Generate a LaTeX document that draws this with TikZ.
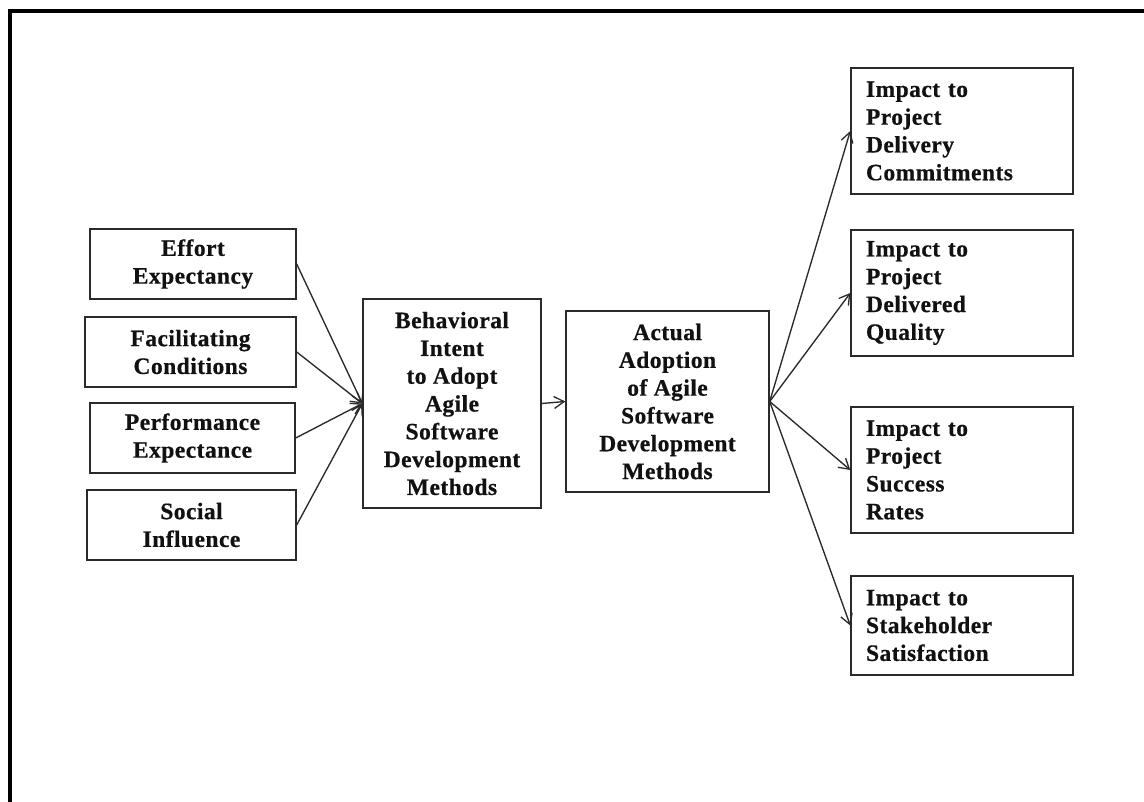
\documentclass[tikz,border=0pt]{standalone}
\usepackage{fontspec}
\setmainfont{Liberation Serif}[LetterSpace=2, BoldFeatures={FakeBold=0.6}]
\usetikzlibrary{arrows.meta}
\definecolor{ink}{HTML}{111111}
\definecolor{edge}{HTML}{2A2A2A}
\begin{document}
\begin{tikzpicture}[x=1pt,y=-1pt,
  box/.style={draw=edge, line width=1.4pt, inner sep=0pt, text=ink,
    font=\fontsize{23.5}{27.8}\selectfont\bfseries},
  cbox/.style={box, align=center},
  lbox/.style={box, align=left, text width=192pt, inner xsep=15pt,
    minimum width=222pt},
  link/.style={draw=edge, line width=1.35pt,
    -{Straight Barb[length=10pt,width=12pt,line width=1.3pt]}}]
\useasboundingbox (0,0) rectangle (1144,802);
% outer frame: left and top rules only
\draw[line width=4pt, line cap=rect] (10,802) -- (10,11) -- (1144,11);

% input factors
\node[cbox, minimum width=206pt, minimum height=70pt] (ee) at (193,264) {Effort\\Expectancy};
\node[cbox, minimum width=211pt, minimum height=70pt] (fc) at (190.5,352) {Facilitating\\Conditions};
\node[cbox, minimum width=205pt, minimum height=70pt] (pe) at (192.5,438) {Performance\\Expectance};
\node[cbox, minimum width=209pt, minimum height=70pt] (si) at (191.5,525) {Social\\Influence};

% intent and adoption
\node[cbox, minimum width=178pt, minimum height=209pt] (bi) at (452,403.5)
  {Behavioral\\Intent\\to Adopt\\Agile\\Software\\Development\\Methods};
\node[cbox, minimum width=203pt, minimum height=181pt] (aa) at (667.5,401.5)
  {Actual\\Adoption\\of Agile\\Software\\Development\\Methods};

% outcomes
\node[lbox, minimum height=126pt] (o1) at (962,131) {Impact to\\Project\\Delivery\\Commitments};
\node[lbox, minimum height=126pt] (o2) at (962,293) {Impact to\\Project\\Delivered\\Quality};
\node[lbox, minimum height=126pt] (o3) at (962,470) {Impact to\\Project\\Success\\Rates};
\node[lbox, minimum height=99pt] (o4) at (962,625.5) {Impact to\\Stakeholder\\Satisfaction};

% connectors
\foreach \s in {ee,fc,pe,si} \draw[link] (\s.east) -- (bi.west);
\draw[link] (bi.east) -- (aa.west);
\foreach \t in {o1,o2,o3,o4} \draw[link] (aa.east) -- (\t.west);
\end{tikzpicture}
\end{document}
